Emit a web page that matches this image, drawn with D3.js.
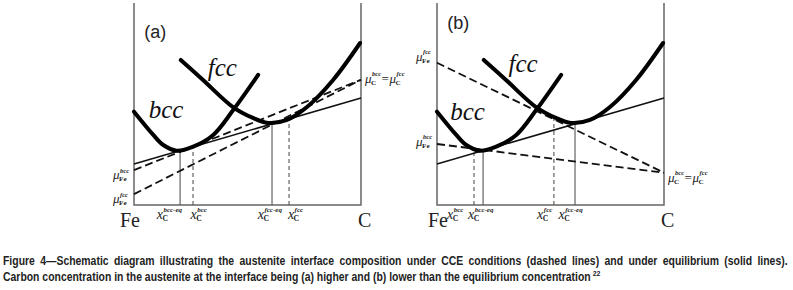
<!DOCTYPE html>
<html lang="en">
<head>
<meta charset="utf-8">
<script src="https://d3js.org/d3.v7.min.js"></script>
<style>
  body { margin: 0; background: #fff; }
  svg { display: block; }
</style>
</head>
<body>
<script>
// free energy curves (x: Fe=0 .. C=100, y: 0 .. 100)
var bccCurve = [[0, 46.2], [8.5, 34.7], [12.9, 29.7], [18.8, 26.9], [26.1, 28.9],
                [34.9, 34.7], [43.7, 47.0], [54.7, 64.4]];
var fccCurve = [[20.6, 71.8], [30.4, 61.9], [43.6, 48.5], [52.4, 43.1], [59.0, 40.6],
                [67.4, 42.1], [76.2, 48.5], [87.7, 61.9], [99.6, 80.2]];

// equilibrium common tangent (solid) and its tangent points
var eqTangent = [[0, 20.3], [100, 53.0]];
var eqPoints = [[20.3, 26.9], [60.8, 40.2]];

// (a) CCE tangents (dashed)
var cceA_bcc = [[0, 17.3], [100, 62.0]];
var cceA_fcc = [[0, 5.4], [100, 62.0]];
var cceA_points = [[26.0, 29.0], [68.3, 43.7]];

// (b) CCE tangents (dashed)
var cceB_fcc = [[0, 70.4], [100, 16.0]];
var cceB_bcc = [[0, 30.2], [100, 16.0]];
var cceB_points = [[16.3, 28.3], [51.5, 43.5]];

// labels under the axis: [superscript, x]
var ticksA = [["bcc-eq", 10.0], ["bcc", 24.9], ["fcc-eq", 54.5], ["fcc", 67.8]];
var ticksB = [["bcc", 4.4], ["bcc-eq", 13.7], ["fcc", 44.1], ["fcc-eq", 53.5]];

var caption1 = "Figure 4\u2014Schematic diagram illustrating the austenite interface composition under CCE conditions (dashed lines) and under equilibrium (solid lines).";
var caption2 = "Carbon concentration in the austenite at the interface being (a) higher and (b) lower than the equilibrium concentration";
var captionRef = "22";

var width = 793, height = 290;
var svg = d3.select("body").append("svg")
  .attr("width", width)
  .attr("height", height);

var y = d3.scaleLinear().domain([0, 100]).range([205, 3]);
var serif = "'Liberation Serif', 'DejaVu Serif', serif";

// a symbol like mu with superscript and subscript
function sym(g, x, yb, base, sup, sub, size) {
  var t = g.append("text")
    .attr("x", x).attr("y", yb)
    .attr("font-family", serif)
    .attr("font-style", "italic")
    .attr("font-size", size)
    .attr("fill", "#222")
    .text(base);
  var w = t.node().getComputedTextLength();
  var u = g.append("text")
    .attr("x", x + w + 0.5).attr("y", yb - size * 0.5)
    .attr("font-family", serif).attr("font-style", "italic").attr("font-weight", "bold")
    .attr("font-size", size * 0.5).attr("fill", "#222")
    .text(sup);
  var s = g.append("text")
    .attr("x", x + w - 0.5).attr("y", yb + size * 0.15)
    .attr("font-family", serif).attr("font-weight", "bold")
    .attr("font-size", size * 0.55).attr("fill", "#222")
    .text(sub);
  return w + Math.max(u.node().getComputedTextLength(), s.node().getComputedTextLength());
}

function panel(x0, name, nameY, cceUp, cceLo, ccePts, ticks, labels) {
  var x = d3.scaleLinear().domain([0, 100]).range([x0, x0 + 227]);
  var g = svg.append("g");
  var line = d3.line().x(function (d) { return x(d[0]); }).y(function (d) { return y(d[1]); });
  var curve = d3.line().x(function (d) { return x(d[0]); }).y(function (d) { return y(d[1]); })
    .curve(d3.curveCatmullRom);

  // frame
  g.append("path")
    .attr("d", "M" + x(0) + "," + y(100) + "V" + y(0) + "H" + x(100) + "V" + y(100))
    .attr("fill", "none").attr("stroke", "#666").attr("stroke-width", 1.5);

  // verticals
  eqPoints.forEach(function (p) {
    g.append("line")
      .attr("x1", x(p[0])).attr("x2", x(p[0]))
      .attr("y1", y(0)).attr("y2", y(p[1]))
      .attr("stroke", "#555").attr("stroke-width", 1.1);
  });
  ccePts.forEach(function (p) {
    g.append("line")
      .attr("x1", x(p[0])).attr("x2", x(p[0]))
      .attr("y1", y(0)).attr("y2", y(p[1]))
      .attr("stroke", "#555").attr("stroke-width", 1.1)
      .attr("stroke-dasharray", "4,3");
  });

  // tangents
  g.append("path").attr("d", line(eqTangent))
    .attr("fill", "none").attr("stroke", "#111").attr("stroke-width", 1.6);
  [cceUp, cceLo].forEach(function (l) {
    g.append("path").attr("d", line(l))
      .attr("fill", "none").attr("stroke", "#111").attr("stroke-width", 1.8)
      .attr("stroke-dasharray", "8,4");
  });

  // curves
  [bccCurve, fccCurve].forEach(function (c) {
    g.append("path").attr("d", curve(c))
      .attr("fill", "none").attr("stroke", "#000").attr("stroke-width", 4)
      .attr("stroke-linecap", "round");
  });

  // phase names
  g.append("text").attr("x", x(labels.bcc[0])).attr("y", y(labels.bcc[1]))
    .attr("font-family", serif).attr("font-style", "italic").attr("font-size", 25)
    .attr("fill", "#111").text("bcc");
  g.append("text").attr("x", x(labels.fcc[0])).attr("y", y(labels.fcc[1]))
    .attr("font-family", serif).attr("font-style", "italic").attr("font-size", 25)
    .attr("fill", "#111").text("fcc");

  g.append("text").attr("x", x(4.5)).attr("y", nameY)
    .attr("font-family", "'Liberation Sans', Arial, sans-serif").attr("font-size", 18)
    .attr("fill", "#222").text(name);

  // Fe and C
  g.append("text").attr("x", labels.feX).attr("y", 227)
    .attr("font-family", serif).attr("font-size", 20).attr("fill", "#222").text("Fe");
  g.append("text").attr("x", x(100) - 3).attr("y", 227)
    .attr("font-family", serif).attr("font-size", 20).attr("fill", "#222").text("C");

  // composition labels
  ticks.forEach(function (t) {
    sym(g, x(t[1]), 219, "x", t[0], "C", 14);
  });

  // chemical potential labels
  sym(g, x(0) - 21, y(cceUp[0][1]) + labels.dyUp, "\u03bc", labels.upSup, "Fe", 13);
  sym(g, x(0) - 21, y(cceLo[0][1]) + labels.dyLo, "\u03bc", labels.loSup, "Fe", 13);
  var r = g.append("g");
  var ry = y(cceUp[1][1]) + labels.dyR;
  var w1 = sym(r, x(100) + 4, ry, "\u03bc", "bcc", "C", 13);
  r.append("text").attr("x", x(100) + 5 + w1).attr("y", ry)
    .attr("font-family", serif).attr("font-size", 13).attr("fill", "#222").text("=");
  sym(r, x(100) + 13 + w1, ry, "\u03bc", "fcc", "C", 13);
}

panel(134, "(a)", 38, cceA_bcc, cceA_fcc, cceA_points, ticksA,
  { bcc: [6.5, 43], fcc: [32.5, 64], feX: 120, upSup: "bcc", loSup: "fcc",
    dyUp: 9, dyLo: 9, dyR: 3 });
panel(437, "(b)", 29, cceB_fcc, cceB_bcc, cceB_points, ticksB,
  { bcc: [5.8, 42], fcc: [31.5, 66], feX: 428, upSup: "fcc", loSup: "bcc",
    dyUp: -2, dyLo: 2, dyR: 9 });

// caption: narrow glyphs; the first line is justified by wider word gaps
var capFont = "'Liberation Sans Narrow', 'Liberation Sans', Arial, sans-serif";
var g1 = svg.append("g").attr("font-family", capFont).attr("font-weight", "bold")
  .attr("font-size", 12).attr("fill", "#222");
var g2 = svg.append("g").attr("font-family", capFont).attr("font-weight", "bold")
  .attr("font-size", 12).attr("fill", "#222");
var t1 = g1.append("text").attr("x", 0).attr("y", 265).text(caption1);
var t2 = g2.append("text").attr("x", 0).attr("y", 281).text(caption2);
var n2 = t2.node().getComputedTextLength();
var k = 588 / n2;
var n1 = t1.node().getComputedTextLength();
var gaps = caption1.split(" ").length - 1;
t1.attr("word-spacing", Math.max(0, (785 / k - n1) / gaps));
g1.attr("transform", "translate(3,0) scale(" + k + ",1)");
g2.attr("transform", "translate(3,0) scale(" + k + ",1)");
g2.append("text").attr("x", n2 + 2).attr("y", 276).attr("font-size", 8).text(captionRef);
</script>
</body>
</html>
